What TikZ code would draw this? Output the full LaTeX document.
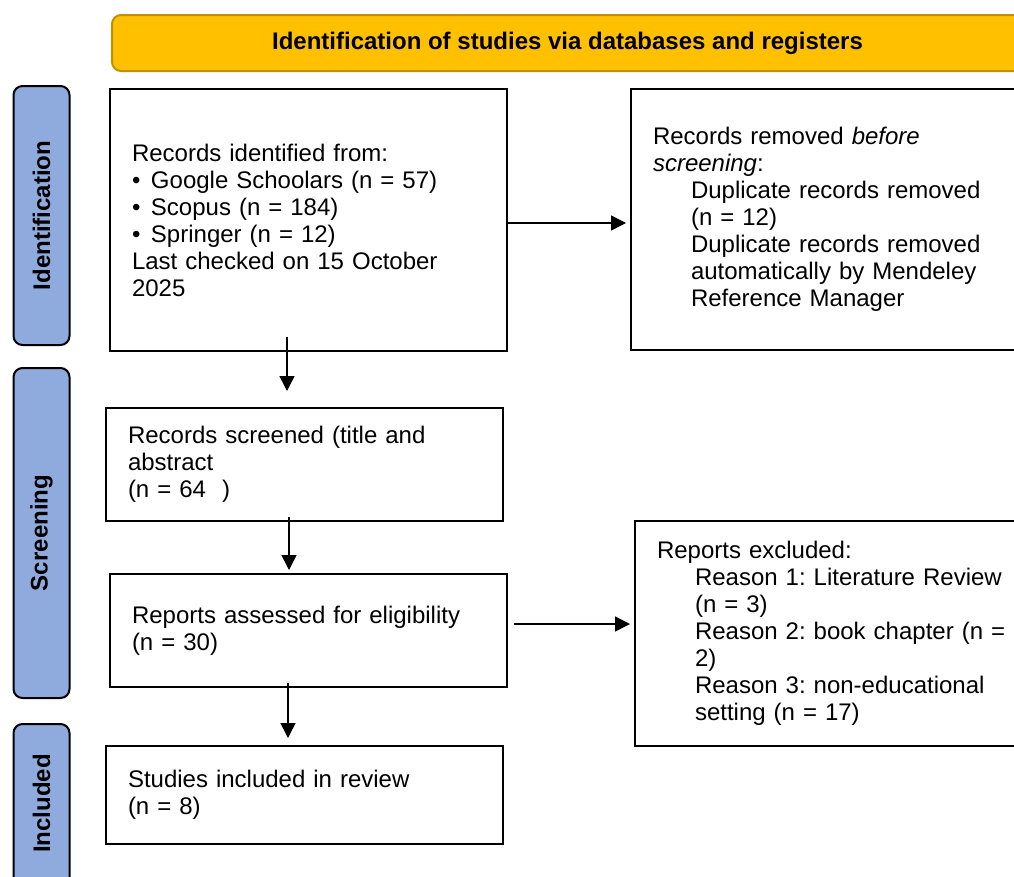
\documentclass[tikz,border=0pt]{standalone}
\usepackage{fontspec}
\setmainfont{Liberation Sans}
\usetikzlibrary{arrows.meta, positioning}
\definecolor{bannergold}{HTML}{FFC000}
\definecolor{bannerline}{HTML}{BF9000}
\definecolor{phaseblue}{HTML}{8FAADC}
\newcommand{\subind}{\hspace*{38pt}}
\newcommand{\bul}{\makebox[19pt][l]{\textbullet}}
\frenchspacing

\begin{document}
\begin{tikzpicture}[
        x=1pt, y=-1pt,
        every node/.style={font=\fontsize{24pt}{27pt}\selectfont},
        box/.style={draw, line width=2pt, align=left, text width=353pt,
                    inner xsep=22pt, minimum width=397pt, anchor=north west},
        phase/.style={draw, line width=2pt, rounded corners=9pt, fill=phaseblue,
                      rotate=90, minimum height=56pt,
                      font=\fontsize{24pt}{27pt}\selectfont\bfseries},
        banner/.style={draw=bannerline, line width=2pt, rounded corners=9pt,
                       fill=bannergold, minimum width=911pt, minimum height=56pt,
                       anchor=north west, font=\fontsize{24pt}{27pt}\selectfont\bfseries},
        arr/.style={-{Triangle[length=15pt, width=15pt]}, line width=1.5pt}
    ]
    \useasboundingbox (0,0) rectangle (1014,876);
    \clip (0,0) rectangle (1014,876);

    % header and phase labels
    \node[banner] (head) at (111,14) {Identification of studies via databases and registers};
    \node[phase, minimum width=259pt] (phaseid) at (41.5,215.5) {Identification};
    \node[phase, minimum width=330pt] (phasescr) at (41.5,533) {Screening};
    \node[phase, minimum width=200pt, anchor=east, text width=140pt, align=right,
          inner xsep=30pt] (phaseinc) at (41.5,723) {Included};

    % flow boxes
    \node[box, minimum height=262pt] (found) at (109,88)
        {Records identified from:\\
         \bul Google Schoolars (n = 57)\\
         \bul Scopus (n = 184)\\
         \bul Springer (n = 12)\\
         Last checked on 15 October\\
         2025};
    \node[box, minimum height=261pt] (removed) at (630,88)
        {Records removed \textit{before}\\
         \textit{screening}:\\
         \subind Duplicate records removed\\
         \subind (n = 12)\\
         \subind Duplicate records removed\\
         \subind automatically by Mendeley\\
         \subind Reference Manager};
    \node[box, minimum height=113pt] (screened) at (105,407)
        {Records screened (title and\\
         abstract\\
         (n = 64~~)};
    \node[box, minimum height=113pt] (assessed) at (109,573)
        {Reports assessed for eligibility\\
         (n = 30)};
    \node[box, minimum height=225pt] (excluded) at (634,520)
        {Reports excluded:\\
         \subind Reason 1: Literature Review\\
         \subind (n = 3)\\
         \subind Reason 2: book chapter (n =\\
         \subind 2)\\
         \subind Reason 3: non-educational\\
         \subind setting (n = 17)};
    \node[box, minimum height=98pt] (included) at (105,745)
        {Studies included in review\\
         (n = 8)};

    % connectors
    \draw[arr, shorten <=-15pt, shorten >=16pt] ([xshift=-21.5pt]found.south) -- ([xshift=-17.5pt]screened.north);
    \draw[arr, shorten <=-5pt, shorten >=3pt] ([xshift=-15.5pt]screened.south) -- ([xshift=-19.5pt]assessed.north);
    \draw[arr, shorten <=-5pt, shorten >=7pt] ([xshift=-20.5pt]assessed.south) -- ([xshift=-16.5pt]included.north);
    \draw[arr, shorten >=4pt] ([yshift=-3pt]found.east) -- ([yshift=-3.5pt]removed.west);
    \draw[arr, shorten <=6pt, shorten >=4pt] ([yshift=6.5pt]assessed.east) -- ([yshift=9.5pt]excluded.west);
\end{tikzpicture}
\end{document}
